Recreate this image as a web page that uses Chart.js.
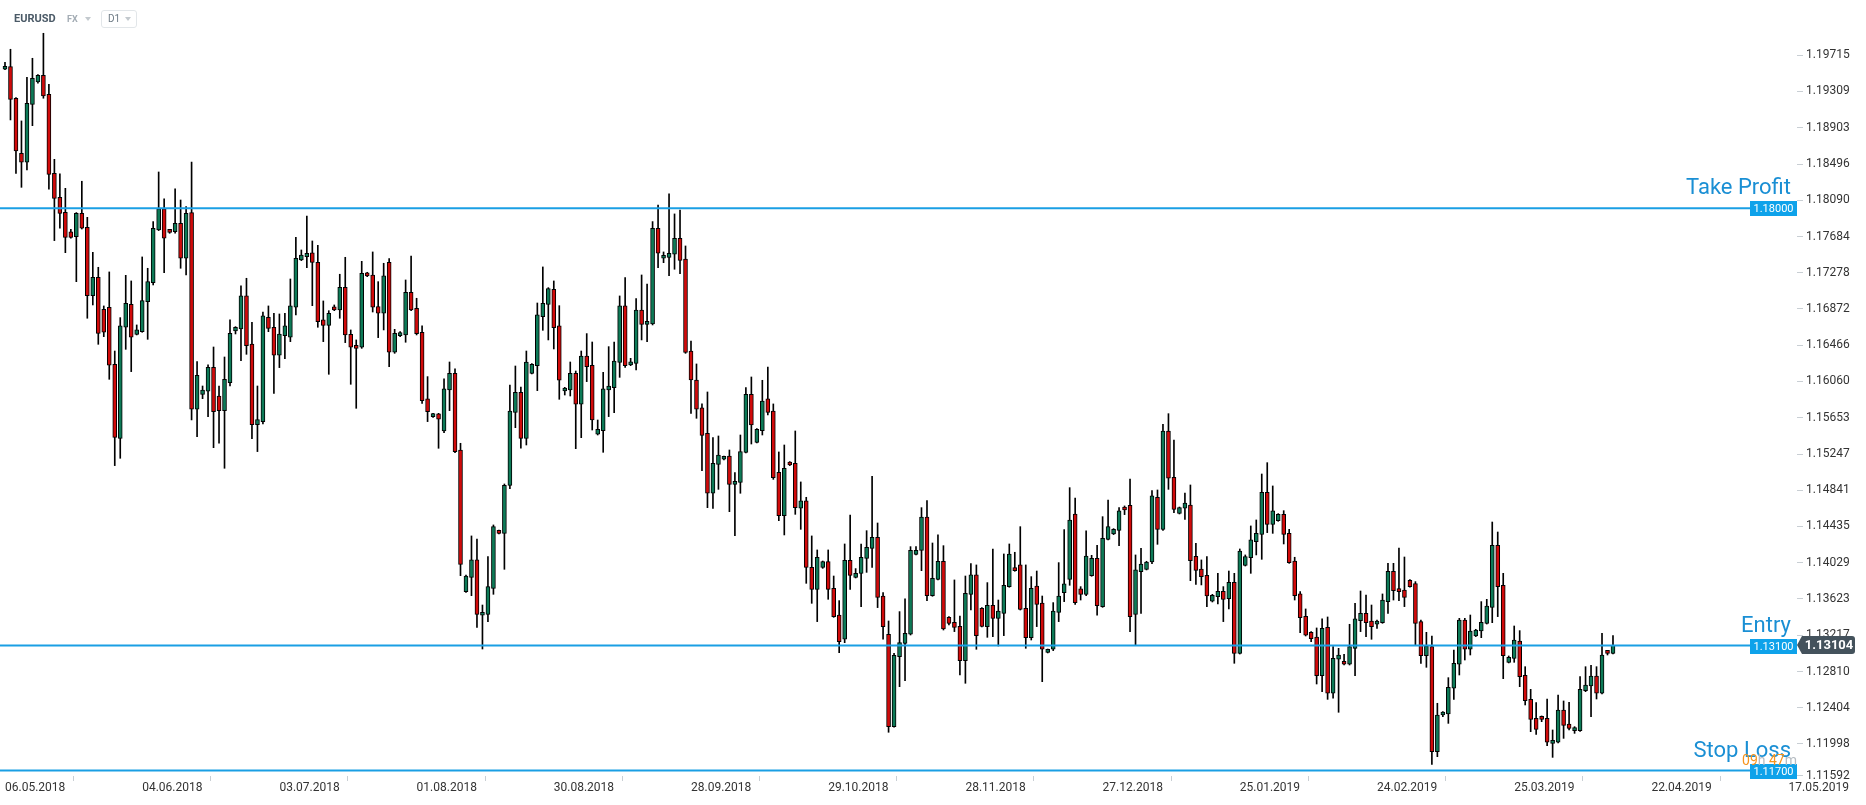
<!DOCTYPE html>
<html>
<head>
<meta charset="utf-8">
<title>EURUSD D1</title>
<script src="https://cdn.jsdelivr.net/npm/chart.js@4/dist/chart.umd.min.js"></script>
<style>
    html, body { margin: 0; padding: 0; background: #fff; }
    #wrap { position: relative; width: 1866px; height: 805px; }
    #header { position: absolute; left: 14px; top: 10px; height: 18px; font-family: Roboto, sans-serif; z-index: 2; }
    #header span { position: absolute; top: 0; line-height: 18px; white-space: nowrap; }
    #symbol { left: 0; font-size: 11px; font-weight: bold; color: #4b5a67; }
    #market { left: 53px; font-size: 9px; font-weight: bold; color: #a3acb4; }
    #period { left: 87px; top: 0; width: 34px; height: 16px; border: 1px solid #e2e6e9; border-radius: 3px; }
    #period b { position: absolute; left: 6px; top: 0; line-height: 16px; font-size: 10px; font-weight: normal; color: #6d7a84; }
    .tri { position: absolute; width: 0; height: 0; border-left: 3.5px solid transparent; border-right: 3.5px solid transparent; border-top: 4px solid #c3c9ce; }
</style>
</head>
<body>
<div id="wrap">
    <div id="header">
        <span id="symbol">EURUSD</span>
        <span id="market">FX</span>
        <div class="tri" style="left:71px; top:7px;"></div>
        <div id="period" style="position:absolute;"><b>D1</b><div class="tri" style="left:23px; top:6px;"></div></div>
    </div>
    <canvas id="priceChart" width="1866" height="805"></canvas>
</div>
<script>
// Daily candles (one per trading day)
const openPrices = [
    1.19558, 1.19587, 1.19233, 1.18616, 1.18516, 1.19165, 1.19416, 1.19490, 1.19277, 1.18392,
    1.18123, 1.17955, 1.17735, 1.17683, 1.17944, 1.17787, 1.17022, 1.17227, 1.16868, 1.16891,
    1.16252, 1.15423, 1.16667, 1.16924, 1.16588, 1.16618, 1.16954, 1.17167, 1.17757, 1.17993,
    1.17754, 1.17739, 1.17832, 1.17440, 1.17952, 1.15748, 1.15916, 1.15950, 1.16218, 1.15897,
    1.15733, 1.16047, 1.16626, 1.16648, 1.17018, 1.16480, 1.15576, 1.15610, 1.16779, 1.16667,
    1.16353, 1.16573, 1.16555, 1.16891, 1.17421, 1.17458, 1.17500, 1.17395, 1.16749, 1.16689,
    1.16895, 1.16861, 1.17115, 1.16588, 1.16454, 1.16443, 1.17264, 1.17253, 1.16898, 1.16824,
    1.17395, 1.16387, 1.16573, 1.16581, 1.17059, 1.16880, 1.16611, 1.15864, 1.15666, 1.15696,
    1.15505, 1.15964, 1.16151, 1.15292, 1.13705, 1.13865, 1.14060, 1.13440, 1.13451, 1.13742,
    1.14385, 1.14358, 1.14896, 1.15714, 1.15938, 1.15423, 1.16151, 1.16237, 1.16786, 1.16924,
    1.17092, 1.16682, 1.15953, 1.15964, 1.16151, 1.15804, 1.16345, 1.16241, 1.15468, 1.15509,
    1.15964, 1.15991, 1.16274, 1.16906, 1.16245, 1.16263, 1.16861, 1.16700, 1.16704, 1.17776,
    1.17440, 1.17451, 1.17485, 1.17664, 1.17432, 1.16401, 1.16076, 1.15763, 1.15479, 1.14807,
    1.15131, 1.15188, 1.15225, 1.14907, 1.14930, 1.15266, 1.15916, 1.15378, 1.15509, 1.15864,
    1.15729, 1.15042, 1.14556, 1.15154, 1.15143, 1.14639, 1.14721, 1.13977, 1.13731, 1.13977,
    1.14041, 1.13742, 1.13443, 1.13171, 1.14056, 1.13865, 1.13910, 1.14078, 1.14190, 1.14314,
    1.13656, 1.13227, 1.12192, 1.12976, 1.13126, 1.13227, 1.14123, 1.14168, 1.14541, 1.13660,
    1.13843, 1.14045, 1.13417, 1.13361, 1.13316, 1.12932, 1.13675, 1.13892, 1.13518, 1.13313,
    1.13552, 1.13406, 1.13462, 1.13761, 1.13966, 1.14004, 1.13518, 1.13189, 1.13768, 1.13578,
    1.13025, 1.13059, 1.13473, 1.13694, 1.13843, 1.14575, 1.13735, 1.13675, 1.13884, 1.14078,
    1.13537, 1.14291, 1.14351, 1.14392, 1.14646, 1.14672, 1.13451, 1.13929, 1.13955, 1.14037,
    1.14762, 1.14403, 1.15505, 1.14986, 1.14582, 1.14639, 1.14676, 1.14101, 1.13959, 1.13888,
    1.13597, 1.13649, 1.13709, 1.13626, 1.13809, 1.13014, 1.14000, 1.14086, 1.14265, 1.14347,
    1.14818, 1.14459, 1.14500, 1.14571, 1.14358, 1.14048, 1.13679, 1.13428, 1.13249, 1.13197,
    1.12764, 1.13305, 1.12566, 1.12947, 1.12920, 1.12891, 1.13070, 1.13380, 1.13462, 1.13376,
    1.13339, 1.13357, 1.13593, 1.13933, 1.13731, 1.13723, 1.13832, 1.13794, 1.13369, 1.12988,
    1.13089, 1.11912, 1.12323, 1.12334, 1.12622, 1.12891, 1.13387, 1.13059, 1.13208, 1.13264,
    1.13350, 1.13529, 1.14224, 1.13776, 1.12913, 1.12958, 1.13152, 1.12767, 1.12498, 1.12286,
    1.12304, 1.12286, 1.12005, 1.12017, 1.12379, 1.12222, 1.12147, 1.12147, 1.12596, 1.12648,
    1.12760, 1.12566, 1.13036, 1.13014
];
const highPrices = [
    1.19636, 1.19782, 1.19240, 1.18979, 1.19468, 1.19681, 1.19498, 1.19961, 1.19389, 1.18549,
    1.18385, 1.18224, 1.17765, 1.17952, 1.18303, 1.17899, 1.17507, 1.17339, 1.16906, 1.17287,
    1.16401, 1.16775, 1.17249, 1.17186, 1.16693, 1.17455, 1.17328, 1.17851, 1.18407, 1.18105,
    1.17761, 1.18217, 1.18093, 1.18019, 1.18519, 1.16282, 1.16009, 1.16245, 1.16446, 1.16009,
    1.16334, 1.16749, 1.16674, 1.17130, 1.17216, 1.16723, 1.16009, 1.16838, 1.16906, 1.16824,
    1.16816, 1.16824, 1.17208, 1.17675, 1.17533, 1.17914, 1.17634, 1.17585, 1.16962, 1.16853,
    1.16917, 1.17261, 1.17451, 1.16637, 1.16525, 1.17406, 1.17283, 1.17511, 1.17178, 1.17384,
    1.17436, 1.16644, 1.16618, 1.17197, 1.17466, 1.16992, 1.16682, 1.16114, 1.15703, 1.15703,
    1.16088, 1.16278, 1.16200, 1.15367, 1.13890, 1.14329, 1.14295, 1.13555, 1.14097, 1.14452,
    1.14396, 1.14911, 1.16020, 1.16233, 1.15998, 1.16401, 1.16260, 1.16939, 1.17343, 1.17111,
    1.17186, 1.16909, 1.15994, 1.16278, 1.16177, 1.16401, 1.16596, 1.16502, 1.15628, 1.16162,
    1.16450, 1.16502, 1.17018, 1.17223, 1.16319, 1.16988, 1.17253, 1.17152, 1.17851, 1.18037,
    1.17511, 1.18161, 1.17937, 1.17981, 1.17578, 1.16513, 1.16256, 1.15808, 1.15942, 1.15430,
    1.15449, 1.15225, 1.15292, 1.15038, 1.15460, 1.15991, 1.16110, 1.15531, 1.16073, 1.16222,
    1.15808, 1.15270, 1.15348, 1.15162, 1.15505, 1.14934, 1.14762, 1.14329, 1.14172, 1.14048,
    1.14172, 1.13880, 1.13604, 1.14239, 1.14564, 1.13963, 1.14239, 1.14388, 1.14997, 1.14474,
    1.13694, 1.13376, 1.13014, 1.13481, 1.13623, 1.14209, 1.14209, 1.14646, 1.14724, 1.14250,
    1.14340, 1.14220, 1.13425, 1.13836, 1.13432, 1.13880, 1.14019, 1.14004, 1.13525, 1.13806,
    1.14183, 1.13611, 1.14127, 1.14239, 1.14146, 1.14433, 1.14004, 1.13873, 1.13936, 1.13656,
    1.13062, 1.13582, 1.14030, 1.14400, 1.14870, 1.14754, 1.13761, 1.14385, 1.14112, 1.14224,
    1.14545, 1.14732, 1.14411, 1.14646, 1.14665, 1.14967, 1.14116, 1.14190, 1.14045, 1.14837,
    1.14844, 1.15580, 1.15699, 1.15404, 1.14653, 1.14810, 1.14900, 1.14246, 1.14060, 1.14097,
    1.13675, 1.13910, 1.13761, 1.13936, 1.13910, 1.14183, 1.14116, 1.14441, 1.14508, 1.15023,
    1.15150, 1.14889, 1.14579, 1.14612, 1.14403, 1.14090, 1.13705, 1.13511, 1.13257, 1.13298,
    1.13399, 1.13421, 1.13089, 1.13070, 1.13003, 1.13339, 1.13574, 1.13712, 1.13667, 1.13555,
    1.13387, 1.13679, 1.14022, 1.14022, 1.14194, 1.14093, 1.13839, 1.13817, 1.13387, 1.13249,
    1.13208, 1.12454, 1.12360, 1.12741, 1.13051, 1.13406, 1.13406, 1.13443, 1.13283, 1.13593,
    1.13619, 1.14485, 1.14373, 1.13910, 1.12984, 1.13320, 1.13268, 1.12864, 1.12610, 1.12461,
    1.12312, 1.12502, 1.12155, 1.12547, 1.12480, 1.12465, 1.12192, 1.12752, 1.12864, 1.12879,
    1.12864, 1.13238, 1.13044, 1.13212
];
const lowPrices = [
    1.19554, 1.18990, 1.18392, 1.18235, 1.18430, 1.18926, 1.19401, 1.19233, 1.18213, 1.17638,
    1.17776, 1.17503, 1.17664, 1.17178, 1.17768, 1.16768, 1.16917, 1.16476, 1.16562, 1.16084,
    1.15117, 1.15199, 1.16420, 1.16170, 1.16581, 1.16611, 1.16532, 1.17141, 1.17750, 1.17279,
    1.17720, 1.17720, 1.17328, 1.17253, 1.15628, 1.15442, 1.15867, 1.15666, 1.15318, 1.15367,
    1.15087, 1.16009, 1.16592, 1.16293, 1.16364, 1.15419, 1.15274, 1.15584, 1.16618, 1.15927,
    1.16215, 1.16316, 1.16506, 1.16805, 1.17414, 1.17335, 1.16909, 1.16667, 1.16506, 1.16140,
    1.16853, 1.16768, 1.16495, 1.16028, 1.15759, 1.16431, 1.17234, 1.16838, 1.16551, 1.16637,
    1.16226, 1.16375, 1.16562, 1.16499, 1.16853, 1.16581, 1.15815, 1.15610, 1.15658, 1.15311,
    1.15486, 1.15733, 1.15262, 1.13884, 1.13695, 1.13660, 1.13305, 1.13062, 1.13369, 1.13675,
    1.14351, 1.13955, 1.14859, 1.15542, 1.15311, 1.15348, 1.16144, 1.15957, 1.16633, 1.16525,
    1.16424, 1.15860, 1.15908, 1.15897, 1.15307, 1.15430, 1.16058, 1.15516, 1.15460, 1.15266,
    1.15666, 1.15710, 1.16106, 1.16218, 1.16237, 1.16189, 1.16525, 1.16506, 1.16693, 1.17335,
    1.17391, 1.17246, 1.17317, 1.17268, 1.16375, 1.15703, 1.15647, 1.15061, 1.14646, 1.14638,
    1.14851, 1.15180, 1.14601, 1.14332, 1.14807, 1.15258, 1.15359, 1.15371, 1.15460, 1.15684,
    1.14963, 1.14500, 1.14340, 1.15117, 1.14571, 1.14403, 1.13798, 1.13574, 1.13369, 1.13966,
    1.13619, 1.13417, 1.13021, 1.13133, 1.13731, 1.13858, 1.13537, 1.13921, 1.13977, 1.13526,
    1.13171, 1.12129, 1.12185, 1.12640, 1.12708, 1.13219, 1.14116, 1.13940, 1.13604, 1.13653,
    1.13836, 1.13275, 1.13331, 1.13257, 1.12771, 1.12678, 1.13499, 1.13059, 1.13309, 1.13193,
    1.13201, 1.13096, 1.13212, 1.13754, 1.13933, 1.13499, 1.13070, 1.13163, 1.13313, 1.12696,
    1.13018, 1.13044, 1.13369, 1.13593, 1.13776, 1.13563, 1.13611, 1.13660, 1.13877, 1.13440,
    1.13529, 1.14284, 1.14344, 1.14220, 1.14568, 1.13257, 1.13107, 1.13462, 1.13948, 1.14019,
    1.14235, 1.14392, 1.14851, 1.14590, 1.14575, 1.14515, 1.13828, 1.13787, 1.13780, 1.13537,
    1.13589, 1.13567, 1.13369, 1.13511, 1.12902, 1.13006, 1.13992, 1.13910, 1.14116, 1.14067,
    1.14366, 1.14358, 1.14493, 1.14239, 1.14022, 1.13611, 1.13245, 1.13208, 1.13145, 1.12670,
    1.12584, 1.12498, 1.12510, 1.12353, 1.12883, 1.12883, 1.12764, 1.13257, 1.13201, 1.13171,
    1.13294, 1.13350, 1.13462, 1.13611, 1.13604, 1.13537, 1.13754, 1.13107, 1.12902, 1.12857,
    1.11770, 1.11856, 1.12304, 1.12229, 1.12498, 1.12771, 1.12939, 1.12995, 1.13201, 1.13189,
    1.13342, 1.13357, 1.13425, 1.12730, 1.12906, 1.12913, 1.12640, 1.12435, 1.12136, 1.12106,
    1.12248, 1.11979, 1.11848, 1.12010, 1.12061, 1.12155, 1.12117, 1.12140, 1.12584, 1.12304,
    1.12502, 1.12558, 1.12995, 1.13006
];
const closePrices = [
    1.19580, 1.19221, 1.18642, 1.18516, 1.19177, 1.19457, 1.19490, 1.19259, 1.18381, 1.18112,
    1.17944, 1.17675, 1.17675, 1.17944, 1.17776, 1.17022, 1.17227, 1.16599, 1.16611, 1.16241,
    1.15434, 1.16682, 1.16936, 1.16555, 1.16637, 1.16965, 1.17178, 1.17776, 1.17993, 1.17664,
    1.17731, 1.17832, 1.17440, 1.17944, 1.15748, 1.16129, 1.15964, 1.16218, 1.15722, 1.15733,
    1.16084, 1.16599, 1.16667, 1.17018, 1.16461, 1.15576, 1.15632, 1.16794, 1.16655, 1.16353,
    1.16592, 1.16682, 1.16906, 1.17440, 1.17477, 1.17496, 1.17395, 1.16730, 1.16689, 1.16824,
    1.16861, 1.17115, 1.16581, 1.16443, 1.16431, 1.17272, 1.17242, 1.16891, 1.16824, 1.17242,
    1.16387, 1.16599, 1.16599, 1.17059, 1.16861, 1.16596, 1.15845, 1.15722, 1.15696, 1.15636,
    1.15976, 1.16151, 1.15273, 1.14011, 1.13880, 1.14060, 1.13451, 1.13469, 1.13761, 1.14433,
    1.14358, 1.14896, 1.15729, 1.15938, 1.15423, 1.16278, 1.16252, 1.16805, 1.16936, 1.17100,
    1.16663, 1.16073, 1.15976, 1.16151, 1.15804, 1.16345, 1.16226, 1.15628, 1.15524, 1.15976,
    1.16009, 1.16289, 1.16906, 1.16237, 1.16278, 1.16861, 1.16700, 1.16723, 1.17776, 1.17496,
    1.17466, 1.17496, 1.17664, 1.17417, 1.16386, 1.16076, 1.15748, 1.15456, 1.14807, 1.15143,
    1.15236, 1.15210, 1.14907, 1.14930, 1.15273, 1.15916, 1.15572, 1.15524, 1.15841, 1.15714,
    1.14982, 1.14556, 1.15087, 1.15124, 1.14646, 1.14721, 1.13977, 1.13731, 1.14090, 1.14041,
    1.13731, 1.13425, 1.13145, 1.14056, 1.13888, 1.13910, 1.14090, 1.14202, 1.14314, 1.13641,
    1.13313, 1.12192, 1.12991, 1.13133, 1.13238, 1.14168, 1.14168, 1.14541, 1.13660, 1.13854,
    1.14045, 1.13287, 1.13350, 1.13305, 1.12932, 1.13686, 1.13892, 1.13212, 1.13316, 1.13552,
    1.13406, 1.13488, 1.13776, 1.14127, 1.13940, 1.13507, 1.13189, 1.13742, 1.13563, 1.13059,
    1.13055, 1.13488, 1.13656, 1.13791, 1.14508, 1.13582, 1.13675, 1.14104, 1.14078, 1.13548,
    1.14302, 1.14433, 1.14403, 1.14609, 1.14620, 1.13425, 1.13948, 1.14015, 1.14037, 1.14777,
    1.14403, 1.15505, 1.14975, 1.14627, 1.14646, 1.14698, 1.14052, 1.13944, 1.13873, 1.13656,
    1.13664, 1.13709, 1.13619, 1.13809, 1.13014, 1.14160, 1.14097, 1.14284, 1.14358, 1.14818,
    1.14459, 1.14609, 1.14571, 1.14347, 1.14030, 1.13660, 1.13413, 1.13216, 1.13178, 1.12764,
    1.13294, 1.12566, 1.12958, 1.12995, 1.12891, 1.13089, 1.13399, 1.13462, 1.13357, 1.13313,
    1.13376, 1.13611, 1.13933, 1.13716, 1.13705, 1.13641, 1.13761, 1.13350, 1.12988, 1.13096,
    1.11912, 1.12323, 1.12353, 1.12633, 1.12902, 1.13387, 1.13059, 1.13264, 1.13275, 1.13361,
    1.13544, 1.14224, 1.13761, 1.12988, 1.12969, 1.13163, 1.12752, 1.12483, 1.12274, 1.12162,
    1.12274, 1.12017, 1.12035, 1.12379, 1.12207, 1.12173, 1.12173, 1.12610, 1.12659, 1.12760,
    1.12566, 1.12995, 1.13014, 1.13104
];

// Axis labels (x labels sit every 25 bars)
const xTickLabels = ["06.05.2018", "04.06.2018", "03.07.2018", "01.08.2018", "30.08.2018", "28.09.2018",
    "29.10.2018", "28.11.2018", "27.12.2018", "25.01.2019", "24.02.2019", "25.03.2019", "22.04.2019", "17.05.2019"];
const yTickLabels = ["1.19715", "1.19309", "1.18903", "1.18496", "1.18090", "1.17684", "1.17278",
    "1.16872", "1.16466", "1.16060", "1.15653", "1.15247", "1.14841", "1.14435", "1.14029",
    "1.13623", "1.13217", "1.12810", "1.12404", "1.11998", "1.11592"];

// Order levels
const levelPrices = [1.18, 1.131, 1.117];
const levelNames = ["Take Profit", "Entry", "Stop Loss"];
const lastPrice = 1.13104;
const countdown = ["09", "h ", "47", "m"];

const GREEN = "#0d7a57";
const RED = "#d10a0a";
const BLUE = "#1a9fe4";

const bodies = openPrices.map((o, i) => ({ x: i, y: [o, closePrices[i]] }));
const wicks = lowPrices.map((l, i) => ({ x: i, y: [l, highPrices[i]] }));
const bodyColors = openPrices.map((o, i) => (closePrices[i] >= o ? GREEN : RED));

const levelDatasets = levelPrices.map((p) => ({
    type: "line",
    data: [{ x: -5, y: p }, { x: 400, y: p }],
    borderColor: BLUE,
    borderWidth: 2,
    pointRadius: 0,
    order: -1,
}));

// Tags, level names and countdown drawn over the plot
const orderTags = {
    id: "orderTags",
    afterDatasetsDraw(chart) {
        const ctx = chart.ctx;
        const area = chart.chartArea;
        const yScale = chart.scales.y;
        ctx.save();
        levelPrices.forEach((p, k) => {
            const y = Math.round(yScale.getPixelForValue(p));
            ctx.fillStyle = "#0ea2ea";
            ctx.fillRect(area.right - 47, y - 7, 47, 15);
            ctx.fillStyle = "#ffffff";
            ctx.font = "11px Roboto";
            ctx.textAlign = "center";
            ctx.textBaseline = "middle";
            ctx.fillText(p.toFixed(5), area.right - 23.5, y + 1);

            ctx.fillStyle = "#1a8fd4";
            ctx.font = "22px Roboto";
            ctx.textAlign = "right";
            ctx.textBaseline = "alphabetic";
            ctx.fillText(levelNames[k], area.right - 6, y - 14);
        });

        // last price tag on the axis
        const ly = Math.round(yScale.getPixelForValue(lastPrice));
        ctx.fillStyle = "#44525c";
        ctx.beginPath();
        ctx.moveTo(area.right, ly);
        ctx.lineTo(area.right + 5, ly - 9);
        ctx.lineTo(area.right + 55, ly - 9);
        ctx.quadraticCurveTo(area.right + 58, ly - 9, area.right + 58, ly - 6);
        ctx.lineTo(area.right + 58, ly + 6);
        ctx.quadraticCurveTo(area.right + 58, ly + 9, area.right + 55, ly + 9);
        ctx.lineTo(area.right + 5, ly + 9);
        ctx.closePath();
        ctx.fill();
        ctx.fillStyle = "#ffffff";
        ctx.font = "bold 13px Roboto";
        ctx.textAlign = "center";
        ctx.textBaseline = "middle";
        ctx.fillText(lastPrice.toFixed(5), area.right + 32, ly + 1);

        // candle countdown above the stop loss tag
        const sy = Math.round(yScale.getPixelForValue(levelPrices[2]));
        ctx.font = "14px Roboto";
        ctx.textBaseline = "alphabetic";
        ctx.textAlign = "left";
        const total = countdown.reduce((w, s) => w + ctx.measureText(s).width, 0);
        let x = area.right - total;
        countdown.forEach((s, k) => {
            ctx.fillStyle = k % 2 === 0 ? "#f7941d" : "#b5bcc2";
            ctx.fillText(s, x, sy - 6);
            x += ctx.measureText(s).width;
        });
        ctx.restore();
    },
};

const ctx = document.getElementById("priceChart").getContext("2d");
window.myChart = new Chart(ctx, {
    type: "bar",
    data: {
        datasets: [
            {
                data: bodies,
                backgroundColor: bodyColors,
                borderColor: "#000000",
                borderWidth: 1,
                borderSkipped: false,
                barThickness: 4,
                minBarLength: 3,
                grouped: false,
                order: 0,
            },
            {
                data: wicks,
                backgroundColor: "#000000",
                barThickness: 1,
                grouped: false,
                order: 1,
            },
            ...levelDatasets,
        ],
    },
    options: {
        responsive: false,
        animation: false,
        events: [],
        layout: { padding: 0 },
        plugins: {
            legend: { display: false },
            tooltip: { enabled: false },
        },
        scales: {
            x: {
                type: "linear",
                min: -0.91,
                max: 326.53,
                offset: false,
                border: { display: false },
                grid: { drawOnChartArea: false, drawTicks: true, tickLength: 5, color: "#c9cfd4" },
                ticks: {
                    align: "start",
                    autoSkip: false,
                    maxRotation: 0,
                    padding: 0,
                    color: "#333333",
                    font: { family: "Roboto", size: 12 },
                    callback: (value, index) => xTickLabels[index],
                },
                afterBuildTicks: (scale) => {
                    scale.ticks = xTickLabels.map((label, k) => ({ value: k * 25 }));
                },
                afterFit: (scale) => {
                    scale.height = 29;
                },
            },
            y: {
                position: "right",
                min: 1.116392,
                max: 1.203339,
                border: { display: false },
                grid: { drawOnChartArea: false, drawTicks: true, tickLength: 6, color: "#c9cfd4" },
                ticks: {
                    padding: 3,
                    color: "#333333",
                    font: { family: "Roboto", size: 12 },
                    callback: (value, index) => yTickLabels[index],
                },
                afterBuildTicks: (scale) => {
                    // keep the lowest label inside the axis, like the original
                    scale.ticks = yTickLabels.map((label) => ({
                        value: Math.max(parseFloat(label), scale.min + 0.00005),
                    }));
                },
                afterFit: (scale) => {
                    scale.width = 69;
                    // plot runs right up to the top edge
                    scale.paddingTop = 0;
                    scale.paddingBottom = 0;
                },
            },
        },
    },
    plugins: [orderTags],
});
</script>
</body>
</html>
